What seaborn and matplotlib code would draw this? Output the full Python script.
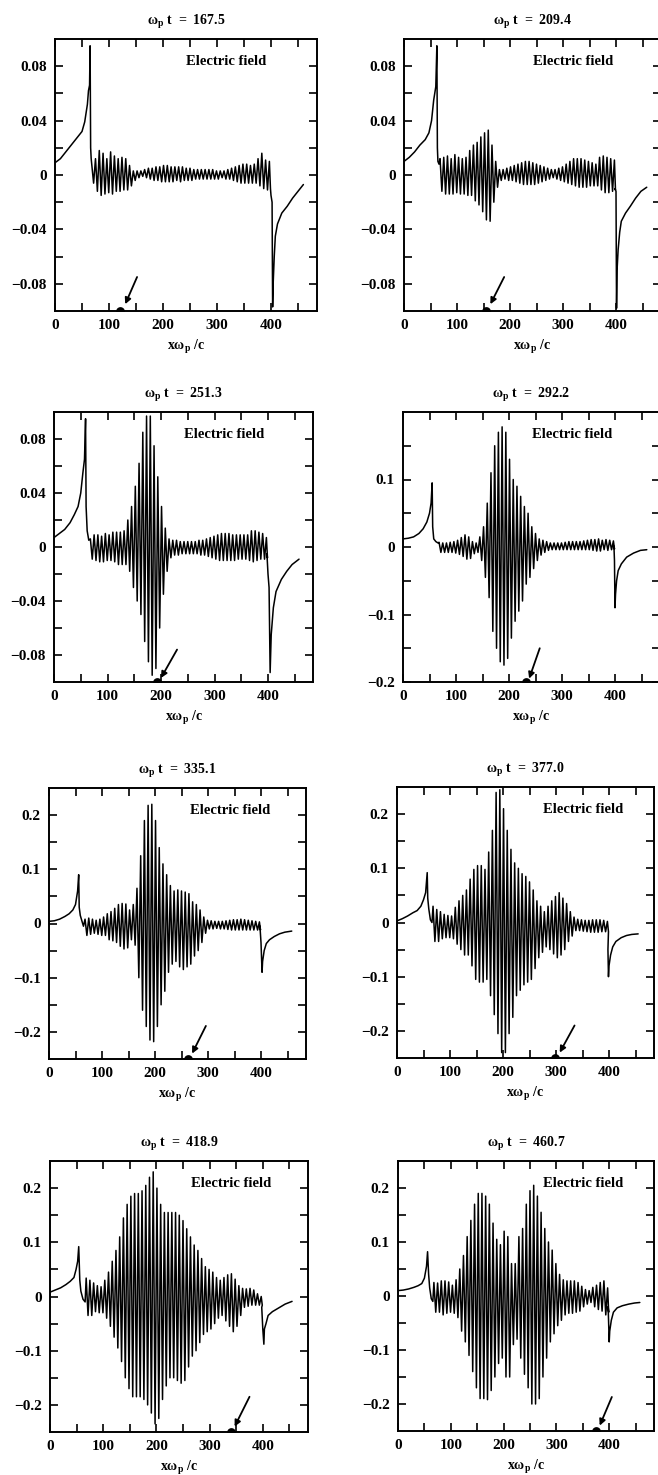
import pandas as pd
import matplotlib.pyplot as plt
import seaborn as sns

# =========================
# DATA
# =========================

times = ["167.5", "209.4", "251.3", "292.2", "335.1", "377.0", "418.9", "460.7"]

# wave is read as one top and one bottom per cycle
x_top = [68, 75, 82, 89, 96, 103, 110, 117, 124, 131, 138, 145, 152, 159, 166, 173,
         180, 187, 194, 201, 208, 215, 222, 229, 236, 243, 250, 257, 264, 271, 278, 285,
         292, 299, 306, 313, 320, 327, 334, 341, 348, 355, 362, 369, 376, 383, 390, 397]
x_bot = [71.5, 78.5, 85.5, 92.5, 99.5, 106.5, 113.5, 120.5, 127.5, 134.5, 141.5, 148.5,
         155.5, 162.5, 169.5, 176.5, 183.5, 190.5, 197.5, 204.5, 211.5, 218.5, 225.5, 232.5,
         239.5, 246.5, 253.5, 260.5, 267.5, 274.5, 281.5, 288.5, 295.5, 302.5, 309.5, 316.5,
         323.5, 330.5, 337.5, 344.5, 351.5, 358.5, 365.5, 372.5, 379.5, 386.5, 393.5, 399]

top_1 = [.008, .012, .018, .016, .012, .017, .014, .012, .013, .012, .007, .003, .003, .003, .004, .005,
         .005, .006, .006, .007, .007, .006, .006, .006, .006, .005, .005, .004, .004, .004, .004, .004,
         .004, .003, .003, .003, .004, .005, .006, .007, .008, .008, .007, .008, .012, .016, .011, .010]
bot_1 = [-.006, -.012, -.015, -.014, -.013, -.014, -.012, -.012, -.011, -.011, -.008, -.004, -.002, -.001, -.002, -.003,
         -.004, -.004, -.005, -.005, -.005, -.005, -.004, -.005, -.004, -.004, -.004, -.003, -.003, -.003, -.003, -.003,
         -.003, -.003, -.002, -.003, -.003, -.004, -.005, -.006, -.006, -.006, -.006, -.006, -.008, -.010, -.011, -.010]
top_2 = [.012, .013, .014, .012, .015, .013, .012, .013, .018, .022, .024, .028, .031, .033, .022, .010,
         .004, .004, .005, .006, .007, .008, .009, .010, .010, .009, .008, .007, .006, .005, .004, .004,
         .005, .006, .008, .010, .012, .012, .012, .011, .010, .009, .008, .013, .014, .013, .012, .011]
bot_2 = [-.012, -.014, -.014, -.014, -.013, -.014, -.014, -.015, -.015, -.019, -.022, -.027, -.033, -.034, -.020, -.009,
         -.004, -.003, -.004, -.004, -.005, -.006, -.007, -.007, -.007, -.007, -.006, -.005, -.004, -.003, -.002, -.003,
         -.004, -.005, -.006, -.007, -.008, -.009, -.009, -.009, -.008, -.008, -.008, -.011, -.013, -.013, -.012, -.011]
top_3 = [.006, .009, .009, .008, .010, .009, .011, .011, .011, .012, .020, .030, .045, .062, .085, .097,
         .097, .075, .052, .030, .014, .006, .005, .005, .004, .004, .004, .004, .004, .005, .005, .006,
         .007, .008, .009, .010, .010, .010, .009, .009, .009, .009, .009, .012, .012, .011, .010, .007]
bot_3 = [-.009, -.010, -.011, -.011, -.010, -.010, -.011, -.013, -.013, -.013, -.018, -.030, -.040, -.050, -.070, -.085,
         -.095, -.090, -.060, -.035, -.018, -.008, -.006, -.006, -.005, -.005, -.005, -.005, -.005, -.006, -.006, -.007,
         -.008, -.009, -.010, -.010, -.010, -.010, -.010, -.009, -.009, -.009, -.010, -.011, -.010, -.009, -.009, -.008]
top_4 = [.007, .006, .006, .007, .008, .010, .014, .018, .015, .008, .006, .015, .030, .065, .110, .150,
         .170, .178, .170, .130, .100, .090, .075, .060, .050, .030, .020, .012, .010, .008, .006, .006,
         .006, .006, .007, .008, .008, .008, .008, .009, .010, .011, .011, .012, .010, .011, .010, .009]
bot_4 = [-.008, -.008, -.008, -.008, -.009, -.011, -.014, -.018, -.017, -.010, -.008, -.020, -.045, -.075, -.125, -.150,
         -.170, -.175, -.165, -.135, -.110, -.095, -.080, -.055, -.045, -.032, -.020, -.012, -.008, -.005, -.004, -.004,
         -.004, -.004, -.004, -.004, -.004, -.004, -.004, -.004, -.004, -.005, -.006, -.006, -.004, -.005, -.004, -.003]
top_5 = [.008, .010, .008, .006, .008, .012, .018, .022, .028, .035, .037, .036, .025, .035, .065, .125,
         .190, .218, .220, .190, .140, .110, .090, .070, .060, .062, .060, .058, .055, .040, .035, .025,
         .012, .006, .005, .004, .004, .004, .005, .006, .007, .007, .008, .007, .006, .005, .004, .003]
bot_5 = [-.022, -.020, -.018, -.020, -.022, -.022, -.030, -.032, -.035, -.042, -.047, -.045, -.030, -.040, -.100, -.160,
         -.190, -.215, -.218, -.190, -.150, -.125, -.090, -.075, -.070, -.080, -.085, -.080, -.075, -.060, -.050, -.035,
         -.018, -.010, -.010, -.009, -.010, -.010, -.011, -.012, -.012, -.012, -.012, -.012, -.012, -.012, -.012, -.012]
top_6 = [.030, .024, .020, .015, .013, .012, .028, .040, .050, .060, .080, .098, .105, .105, .098, .130,
         .170, .240, .245, .210, .170, .135, .110, .100, .090, .085, .075, .060, .040, .030, .020, .030,
         .040, .048, .055, .045, .035, .020, .010, .006, .005, .004, .004, .005, .005, .005, .004, .002]
bot_6 = [-.035, -.035, -.030, -.028, -.028, -.030, -.040, -.050, -.060, -.060, -.080, -.105, -.110, -.110, -.105, -.135,
         -.170, -.205, -.240, -.240, -.205, -.175, -.135, -.125, -.115, -.110, -.105, -.085, -.065, -.055, -.045, -.050,
         -.058, -.065, -.060, -.050, -.035, -.025, -.015, -.015, -.016, -.017, -.018, -.018, -.018, -.017, -.017, -.017]
top_7 = [.034, .030, .025, .020, .018, .030, .045, .065, .085, .110, .145, .170, .185, .190, .190, .195,
         .205, .220, .230, .200, .170, .155, .155, .155, .155, .150, .140, .125, .110, .095, .085, .070,
         .055, .050, .045, .035, .030, .035, .040, .042, .032, .020, .015, .014, .015, .012, .005, .000]
bot_7 = [-.035, -.035, -.028, -.030, -.030, -.040, -.055, -.075, -.095, -.120, -.150, -.170, -.185, -.185, -.185, -.190,
         -.200, -.215, -.235, -.225, -.190, -.165, -.150, -.150, -.155, -.160, -.155, -.130, -.110, -.100, -.085, -.070,
         -.065, -.060, -.050, -.040, -.035, -.045, -.055, -.065, -.055, -.035, -.020, -.018, -.016, -.016, -.016, -.016]
top_8 = [.025, .024, .028, .028, .026, .020, .030, .050, .075, .110, .140, .170, .190, .190, .185, .170,
         .135, .105, .095, .120, .110, .060, .060, .110, .125, .170, .195, .205, .185, .155, .125, .100,
         .085, .060, .040, .030, .028, .028, .028, .025, .018, .012, .010, .016, .020, .025, .028, .015]
bot_8 = [-.030, -.030, -.035, -.032, -.030, -.032, -.040, -.065, -.085, -.110, -.140, -.170, -.190, -.190, -.192, -.175,
         -.150, -.125, -.115, -.150, -.150, -.090, -.080, -.115, -.145, -.170, -.200, -.200, -.190, -.150, -.115, -.085,
         -.070, -.055, -.045, -.035, -.032, -.032, -.030, -.028, -.020, -.015, -.012, -.020, -.025, -.028, -.035, -.030]

tops = [top_1, top_2, top_3, top_4, top_5, top_6, top_7, top_8]
bots = [bot_1, bot_2, bot_3, bot_4, bot_5, bot_6, bot_7, bot_8]

# smooth part left of the wave
lead_x = [[0, 10, 20, 30, 40, 50, 55, 60, 62, 64, 65, 66, 67],
          [0, 10, 20, 30, 40, 47, 52, 56, 60, 62, 63, 64, 66],
          [0, 10, 20, 30, 38, 45, 50, 54, 57, 59, 60, 62, 65],
          [0, 10, 20, 30, 38, 45, 50, 53, 55, 56, 58, 62, 66],
          [0, 10, 20, 30, 38, 45, 50, 54, 56, 57, 59, 62, 65],
          [0, 10, 20, 30, 38, 45, 50, 54, 57, 58, 60, 63, 66],
          [0, 10, 20, 30, 38, 45, 49, 52, 54, 56, 58, 62, 66],
          [0, 10, 20, 30, 38, 45, 50, 54, 56, 58, 60, 63, 66]]
lead_y = [[.009, .012, .017, .022, .027, .032, .039, .052, .062, .066, .095, .020, .012],
          [.010, .013, .017, .022, .026, .031, .040, .055, .065, .095, .020, .010, .008],
          [.007, .010, .013, .018, .024, .030, .040, .055, .065, .095, .030, .012, .005],
          [.012, .013, .015, .020, .027, .037, .050, .065, .095, .030, .012, .008, .006],
          [.004, .005, .008, .013, .018, .025, .035, .060, .090, .030, .015, .005, -.005],
          [.003, .007, .012, .018, .022, .030, .042, .055, .092, .045, .025, .005, .000],
          [.008, .012, .016, .022, .028, .035, .050, .065, .092, .030, .010, -.005, -.010],
          [.010, .011, .013, .016, .019, .023, .033, .055, .082, .040, .015, -.005, -.010]]

# smooth part right of the wave
tail_x = [[400, 402, 403, 404, 406, 408, 412, 420, 430, 440, 450, 460],
          [398, 400, 401, 402, 404, 407, 410, 418, 427, 437, 447, 458],
          [398, 400, 402, 404, 406, 410, 415, 425, 435, 445, 458],
          [398, 399, 400, 401, 403, 406, 412, 422, 435, 448, 460],
          [398, 400, 402, 403, 406, 410, 416, 425, 435, 445, 458],
          [398, 399, 400, 403, 407, 413, 423, 433, 443, 455],
          [398, 400, 402, 403, 406, 410, 418, 430, 442, 455],
          [398, 400, 401, 404, 408, 415, 425, 437, 448, 458]]
tail_y = [[-.015, -.020, -.097, -.080, -.060, -.045, -.036, -.028, -.023, -.017, -.012, -.007],
          [-.010, -.012, -.098, -.070, -.055, -.042, -.034, -.028, -.023, -.017, -.012, -.009],
          [-.005, -.020, -.030, -.093, -.065, -.045, -.033, -.024, -.018, -.013, -.009],
          [.001, -.020, -.090, -.070, -.050, -.035, -.025, -.015, -.009, -.005, -.004],
          [-.005, -.035, -.090, -.070, -.050, -.037, -.030, -.024, -.019, -.016, -.014],
          [-.050, -.100, -.080, -.060, -.045, -.035, -.028, -.024, -.022, -.021],
          [-.020, -.060, -.088, -.060, -.050, -.035, -.028, -.021, -.014, -.009],
          [-.020, -.085, -.065, -.045, -.030, -.022, -.018, -.015, -.013, -.012]]

# dot on the axis and the arrow pointing at it
dot_x = [120, 155, 193, 232, 262, 299, 340, 375]
tail_arrow_x = [152, 189, 230, 258, 296, 335, 375, 405]
tail_arrow_y = [-.075, -.075, -.076, -.150, -.189, -.190, -.185, -.187]
head_arrow_x = [130, 163, 200, 238, 270, 307, 347, 382]
head_arrow_y = [-.095, -.095, -.097, -.195, -.240, -.240, -.240, -.240]

# y ticks for the three scales
ticks_a = [-.08, -.06, -.04, -.02, 0, .02, .04, .06, .08]
labels_a = ["\u22120.08", "", "\u22120.04", "", "0", "", "0.04", "", "0.08"]
ticks_b = [-.2, -.15, -.1, -.05, 0, .05, .1, .15]
labels_b = ["\u22120.2", "", "\u22120.1", "", "0", "", "0.1", ""]
ticks_c = [-.2, -.15, -.1, -.05, 0, .05, .1, .15, .2]
labels_c = ["\u22120.2", "", "\u22120.1", "", "0", "", "0.1", "", "0.2"]

panel_ticks = [ticks_a, ticks_a, ticks_a, ticks_b, ticks_c, ticks_c, ticks_c, ticks_c]
panel_labels = [labels_a, labels_a, labels_a, labels_b, labels_c, labels_c, labels_c, labels_c]
panel_ylim = [.1, .1, .1, .2, .25, .25, .25, .25]

x_ticks = [0, 50, 100, 150, 200, 250, 300, 350, 400, 450]
x_labels = ["0", "", "100", "", "200", "", "300", "", "400", ""]

# axes box in pixels: left, top, bottom, pixels per x unit
boxes = [(55, 39, 311, .540), (404, 39, 311, .530),
         (54, 412, 682, .535), (403, 412, 682, .530),
         (49, 788, 1059, .530), (397, 787, 1058, .530),
         (50, 1161, 1432, .532), (398, 1161, 1431, .528)]

# where "Electric field" starts, as a fraction of the axes width
field_text_x = [.50, .50, .50, .50, .55, .568, .547, .566]

# =========================
# STYLE
# =========================

sns.set_theme(style="ticks")

plt.rcParams['font.family'] = ['Liberation Serif', 'DejaVu Serif']
plt.rcParams['font.weight'] = 'bold'
plt.rcParams['mathtext.fontset'] = 'custom'
plt.rcParams['mathtext.rm'] = 'Liberation Serif:bold'
plt.rcParams['mathtext.it'] = 'Liberation Serif:bold'
plt.rcParams['mathtext.bf'] = 'Liberation Serif:bold'

W, H = 658, 1475
XMAX = 485

fig = plt.figure(figsize=(W / 100, H / 100), dpi=100, facecolor='white')

# =========================
# PANELS
# =========================

for i, t in enumerate(times):
    assert len(tops[i]) == len(x_top) and len(bots[i]) == len(x_bot)

    left, top, bottom, ppx = boxes[i]
    ax = fig.add_axes([left / W, 1 - bottom / H, XMAX * ppx / W, (bottom - top) / H])

    wave_x = [v for pair in zip(x_top, x_bot) for v in pair]
    wave_y = [v for pair in zip(tops[i], bots[i]) for v in pair]

    df = pd.DataFrame({
        'x': lead_x[i] + wave_x + tail_x[i],
        'E': lead_y[i] + wave_y + tail_y[i],
    })

    sns.lineplot(
        data=df,
        x='x',
        y='E',
        sort=False,
        estimator=None,
        color='black',
        linewidth=1.1,
        ax=ax
    )

    ym = panel_ylim[i]

    ax.set_xlim(0, XMAX)
    ax.set_ylim(-ym, ym)

    ax.set_xticks(x_ticks)
    ax.set_xticklabels(x_labels)
    ax.set_yticks(panel_ticks[i])
    ax.set_yticklabels(panel_labels[i])

    ax.tick_params(
        direction='in',
        length=6,
        width=1.2,
        top=True,
        right=True,
        labelsize=11,
        pad=6,
        color='black',
        labelcolor='black'
    )

    for spine in ax.spines.values():
        spine.set_visible(True)
        spine.set_linewidth(1.4)
        spine.set_color('black')

    ax.set_title("\u03c9$_{p}$ t  =  " + t, fontsize=10, fontweight='bold', color='black', pad=10)
    ax.set_xlabel("x\u03c9$_{p}$ /c", fontsize=10, fontweight='bold', color='black', labelpad=4)
    ax.set_ylabel("")

    ax.text(
        field_text_x[i], .905, "Electric field",
        transform=ax.transAxes,
        fontsize=10.5,
        fontweight='bold',
        color='black'
    )

    # dot and arrow
    sns.scatterplot(x=[dot_x[i]], y=[-ym], s=40, color='black', linewidth=0, clip_on=True, ax=ax)

    ax.annotate(
        "",
        xy=(head_arrow_x[i], head_arrow_y[i]),
        xytext=(tail_arrow_x[i], tail_arrow_y[i]),
        arrowprops=dict(arrowstyle='-|>', color='black', lw=1.3, mutation_scale=9, shrinkA=0, shrinkB=0)
    )

fig.savefig("out.png", dpi=100, facecolor='white')
